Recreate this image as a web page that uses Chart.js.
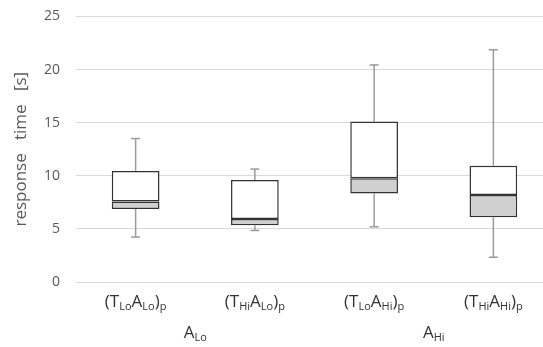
<!DOCTYPE html>
<html>
<head>
<meta charset="utf-8">
<script src="https://cdn.jsdelivr.net/npm/chart.js@4"></script>
<style>
  html, body { margin: 0; padding: 0; background: #fff; }
  #wrap { width: 543px; height: 347px; overflow: hidden; position: relative; }
  #chart { position: absolute; left: 0; top: -8px; }
</style>
</head>
<body>
<div id="wrap"><canvas id="chart" width="553" height="355"></canvas></div>
<script>
// categories use {..} after _ for subscripts
const categories = ['(T_{Lo}A_{Lo})_{p}', '(T_{Hi}A_{Lo})_{p}', '(T_{Lo}A_{Hi})_{p}', '(T_{Hi}A_{Hi})_{p}'];
const groupLabels = ['A_{Lo}', 'A_{Hi}'];
const groupSpans = [[0, 1], [2, 3]];

const minVals = [4.23, 4.85, 5.2, 2.33];
const q1Vals = [6.87, 5.35, 8.33, 6.09];
const medVals = [7.58, 5.94, 9.77, 8.2];
const q3Vals = [10.45, 9.6, 15.11, 10.94];
const maxVals = [13.5, 10.63, 20.43, 21.86];

const yTicks = [0, 5, 10, 15, 20, 25];

const FONT = '"Open Sans", sans-serif';

function parseSub(str) {
  const parts = [];
  const re = /_\{([^}]*)\}|([^_]+)/g;
  let m;
  while ((m = re.exec(str)) !== null) {
    if (m[1] !== undefined) parts.push({ t: m[1], sub: true });
    else parts.push({ t: m[2], sub: false });
  }
  return parts;
}

function drawSubText(ctx, str, cx, y, size) {
  const parts = parseSub(str);
  const subSize = Math.round(size * 0.65);
  let w = 0;
  parts.forEach(p => {
    ctx.font = (p.sub ? subSize : size) + 'px ' + FONT;
    p.w = ctx.measureText(p.t).width;
    w += p.w;
  });
  let x = cx - w / 2;
  parts.forEach(p => {
    ctx.font = (p.sub ? subSize : size) + 'px ' + FONT;
    ctx.fillText(p.t, x, p.sub ? y + size * 0.3 : y);
    x += p.w;
  });
}

const whiskers = {
  id: 'whiskers',
  beforeDatasetsDraw(chart) {
    const ctx = chart.ctx, xs = chart.scales.x, ys = chart.scales.y;
    ctx.save();
    ctx.strokeStyle = '#9a9a9a';
    ctx.lineWidth = 1.5;
    categories.forEach((c, i) => {
      const x = xs.getPixelForValue(i);
      const segs = [[maxVals[i], q3Vals[i]], [q1Vals[i], minVals[i]]];
      segs.forEach(([a, b]) => {
        ctx.beginPath();
        ctx.moveTo(x, ys.getPixelForValue(a));
        ctx.lineTo(x, ys.getPixelForValue(b));
        ctx.stroke();
      });
      [maxVals[i], minVals[i]].forEach(v => {
        const y = ys.getPixelForValue(v);
        ctx.beginPath();
        ctx.moveTo(x - 4.5, y);
        ctx.lineTo(x + 4.5, y);
        ctx.stroke();
      });
    });
    ctx.restore();
  }
};

const xLabels = {
  id: 'xLabels',
  afterDraw(chart) {
    const ctx = chart.ctx, xs = chart.scales.x;
    ctx.save();
    ctx.fillStyle = '#333333';
    ctx.textBaseline = 'middle';
    ctx.textAlign = 'left';
    // canvas sits 8px above the page, so add 8 to page positions
    categories.forEach((c, i) => {
      drawSubText(ctx, c, xs.getPixelForValue(i), 310, 17);
    });
    groupLabels.forEach((g, k) => {
      const [a, b] = groupSpans[k];
      const cx = (xs.getPixelForValue(a) + xs.getPixelForValue(b)) / 2;
      drawSubText(ctx, g, cx, 341, 17);
    });
    ctx.restore();
  }
};

new Chart(document.getElementById('chart'), {
  type: 'bar',
  data: {
    labels: categories,
    datasets: [
      {
        label: 'lower',
        data: q1Vals.map((v, i) => [v, medVals[i]]),
        backgroundColor: '#d0d0d0',
        borderColor: '#333333',
        borderWidth: 1.5,
        borderSkipped: false
      },
      {
        label: 'upper',
        data: medVals.map((v, i) => [v, q3Vals[i]]),
        backgroundColor: '#ffffff',
        borderColor: '#333333',
        borderWidth: 1.5,
        borderSkipped: false
      }
    ]
  },
  options: {
    responsive: false,
    animation: false,
    grouped: false,
    barPercentage: 0.4,
    categoryPercentage: 1,
    layout: { padding: { top: 0, bottom: 0, left: 0, right: 0 } },
    plugins: { legend: { display: false }, tooltip: { enabled: false } },
    scales: {
      x: {
        grid: { display: false },
        border: { display: false },
        ticks: { display: false },
        afterFit: s => { s.height = 65; }
      },
      y: {
        min: 0,
        max: 25,
        afterBuildTicks: s => { s.ticks = yTicks.map(v => ({ value: v })); },
        grid: { color: '#d9d9d9', lineWidth: 1, drawTicks: false },
        border: { display: false },
        ticks: { color: '#595959', font: { family: FONT, size: 14 }, padding: 16 },
        title: {
          display: true,
          text: 'response   time   [s]',
          color: '#595959',
          font: { family: FONT, size: 17 },
          padding: { top: 11, bottom: 0 }
        },
        afterFit: s => { s.width = 76; }
      }
    }
  },
  plugins: [whiskers, xLabels]
});
</script>
</body>
</html>
